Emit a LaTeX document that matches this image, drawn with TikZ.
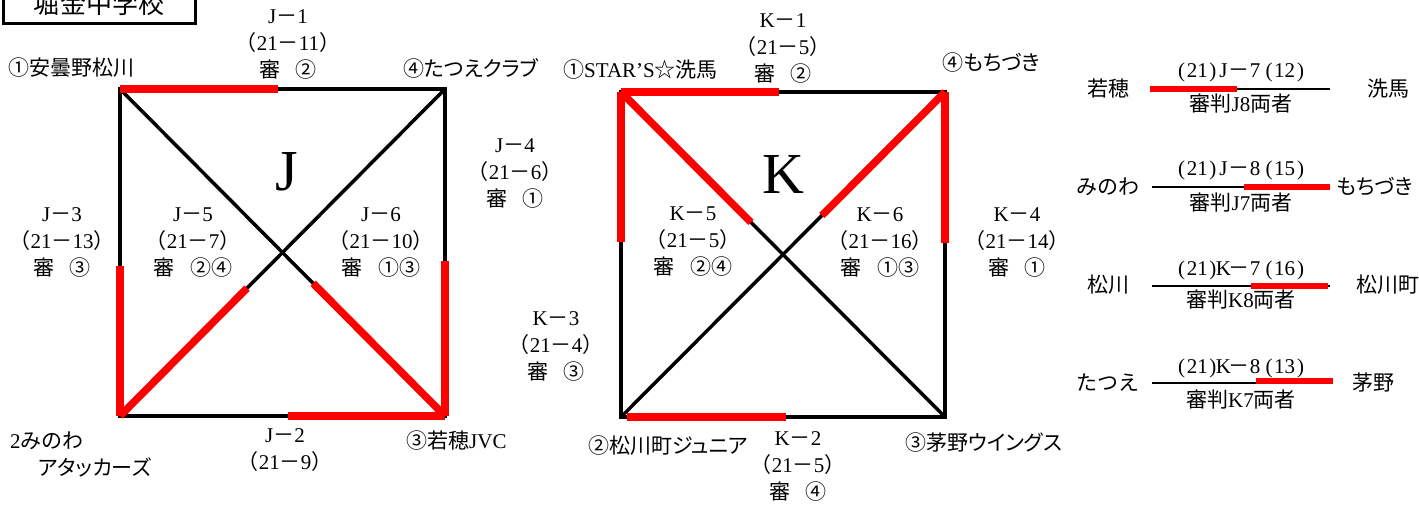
\documentclass[tikz,border=0pt]{standalone}
\usepackage{fontspec}
\usetikzlibrary{calc}
\setmainfont{Liberation Serif}
\newfontfamily\cjk{Noto Sans CJK JP}
\newfontfamily\cjkp[RawFeature=+palt]{Noto Sans CJK JP}
\newcommand\jp[1]{{\cjk #1}}
\newcommand\jpp[1]{{\cjkp #1}}
\newcommand\dsh{\jp{－}}
\newcommand\lp{\jp{（}}
\newcommand\rp{\jp{）}}
\newcommand\hw[1]{\makebox[0.5em]{#1}}
\newcommand\shin[1]{\jp{審\hspace{.75em}#1}}
\definecolor{segred}{RGB}{255,0,0}
\begin{document}
\begin{tikzpicture}[x=1pt,y=-1pt,
  blk/.style={line width=3.5pt,black},
  redseg/.style={line width=7.5pt,segred},
  rblk/.style={line width=2.8pt,black},
  rred/.style={line width=6.5pt,segred},
  lbl/.style={align=center,inner sep=0pt,font=\fontsize{21}{27}\selectfont},
  big/.style={inner sep=0pt,font=\fontsize{58}{58}\selectfont}]
\useasboundingbox (0,0) rectangle (1419,508);
\clip (0,0) rectangle (1419,508);
% title
\node[draw,line width=3pt,minimum width=192pt,minimum height=40pt,inner sep=0pt,
  font=\cjk\fontsize{26}{26}\selectfont] (title) at (99,4) {堀金中学校};
% ---------------- J square
\coordinate (JTL) at (120,89);
\coordinate (JTR) at (445,89);
\coordinate (JBL) at (120,416);
\coordinate (JBR) at (445,416);
\draw[blk] (JTL) -- (JTR) -- (JBR) -- (JBL) -- cycle;
\draw[blk] (JTL) -- (JBR);
\draw[blk] (JBL) -- (JTR);
\coordinate (J1e) at ($(JTL)!0.486!(JTR)$);
\coordinate (J3e) at ($(JTL)!0.541!(JBL)$);
\coordinate (J4e) at ($(JTR)!0.526!(JBR)$);
\coordinate (J2e) at ($(JBL)!0.517!(JBR)$);
\coordinate (J5e) at ($(JBL)!0.391!(JTR)$);
\coordinate (J6e) at ($(JTL)!0.594!(JBR)$);
\draw[redseg] (JTL) -- (J1e);
\draw[redseg] (JBL) -- (J3e);
\draw[redseg] (JBR) -- (J4e);
\draw[redseg] (JBR) -- (J2e);
\draw[redseg] (JBL) -- (J5e);
\draw[redseg] (JBR) -- (J6e);
\node[big] (Jbig) at (287,172) {J};
\node[lbl] (Jm1) at (288,44) {J\dsh 1\\\lp 21\dsh 11\rp\\\shin{②}};
\node[lbl] (Jm4) at (515,173) {J\dsh 4\\\lp 21\dsh 6\rp\\\shin{①}};
\node[lbl] (Jm3) at (62,242) {J\dsh 3\\\lp 21\dsh 13\rp\\\shin{③}};
\node[lbl] (Jm5) at (193,243) {J\dsh 5\\\lp 21\dsh 7\rp\\\shin{②④}};
\node[lbl] (Jm6) at (381,242) {J\dsh 6\\\lp 21\dsh 10\rp\\\shin{①③}};
\node[lbl] (Jm2) at (285,450) {J\dsh 2\\\lp 21\dsh 9\rp};
\node[lbl,anchor=west] (Jt1) at (8,68) {\jp{①安曇野松川}};
\node[lbl,anchor=west] (Jt4) at (403,68) {\jp{④}\jpp{たつえクラブ}};
\node[lbl,anchor=west] (Jt2a) at (10,441) {2\jp{みのわ}};
\node[lbl,anchor=west] (Jt2b) at (38,467) {\jpp{アタッカーズ}};
\node[lbl,anchor=west] (Jt3) at (406,441) {\jp{③若穂}JVC};
% ---------------- K square
\coordinate (KTL) at (621,92);
\coordinate (KTR) at (945,92);
\coordinate (KBL) at (621,417);
\coordinate (KBR) at (945,417);
\draw[blk] (KTL) -- (KTR) -- (KBR) -- (KBL) -- cycle;
\draw[blk] (KTL) -- (KBR);
\draw[blk] (KBL) -- (KTR);
\coordinate (K1e) at ($(KTL)!0.488!(KTR)$);
\coordinate (K3e) at ($(KTL)!0.462!(KBL)$);
\coordinate (K4e) at ($(KTR)!0.465!(KBR)$);
\coordinate (K2s) at ($(KBL)!0.019!(KBR)$);
\coordinate (K2e) at ($(KBL)!0.509!(KBR)$);
\coordinate (K5e) at ($(KTL)!0.401!(KBR)$);
\coordinate (K6e) at ($(KTR)!0.380!(KBL)$);
\draw[redseg] (KTL) -- (K1e);
\draw[redseg] (KTL) -- (K3e);
\draw[redseg] (KTR) -- (K4e);
\draw[redseg] (K2s) -- (K2e);
\draw[redseg] (KTL) -- (K5e);
\draw[redseg] (KTR) -- (K6e);
\node[big] (Kbig) at (783,175) {K};
\node[lbl] (Km1) at (783,48) {K\dsh 1\\\lp 21\dsh 5\rp\\\shin{②}};
\node[lbl] (Km4) at (1017,242) {K\dsh 4\\\lp 21\dsh 14\rp\\\shin{①}};
\node[lbl] (Km5) at (693,242) {K\dsh 5\\\lp 21\dsh 5\rp\\\shin{②④}};
\node[lbl] (Km6) at (880,242) {K\dsh 6\\\lp 21\dsh 16\rp\\\shin{①③}};
\node[lbl] (Km3) at (556,346) {K\dsh 3\\\lp 21\dsh 4\rp\\\shin{③}};
\node[lbl] (Km2) at (798,466) {K\dsh 2\\\lp 21\dsh 5\rp\\\shin{④}};
\node[lbl,anchor=west] (Kt1) at (563,70) {\jp{①}STAR’S\jp{☆洗馬}};
\node[lbl,anchor=west] (Kt4) at (942,63) {\jp{④}\jpp{もちづき}};
\node[lbl,anchor=west] (Kt2) at (588,446) {\jp{②松川町}\jpp{ジュニア}};
\node[lbl,anchor=west] (Kt3) at (905,443) {\jp{③茅野}\jpp{ウイングス}};
% ---------------- right column
\coordinate (R1a) at (1150,89);  \coordinate (R1b) at (1330,89);  \coordinate (R1r) at (1237,89);
\coordinate (R2a) at (1152,187); \coordinate (R2b) at (1330,187); \coordinate (R2r) at (1244,187);
\coordinate (R3a) at (1152,286); \coordinate (R3b) at (1330,286);
\coordinate (R3r) at (1251,286); \coordinate (R3s) at (1328,286);
\coordinate (R4a) at (1152,383); \coordinate (R4b) at (1330,383);
\coordinate (R4r) at (1256,381); \coordinate (R4s) at (1333,381);
\draw[rblk] (R1a) -- (R1b);
\draw[rred] (R1a) -- (R1r);
\draw[rblk] (R2a) -- (R2b);
\draw[rred] (R2r) -- (R2b);
\draw[rblk] (R3a) -- (R3b);
\draw[rred] (R3r) -- (R3s);
\draw[rblk] (R4a) -- (R4b);
\draw[rred] (R4r) -- (R4s);
\node[lbl] (R1l) at (1108,89) {\jp{若穂}};
\node[lbl] (R1t) at (1388,89) {\jp{洗馬}};
\node[lbl] (R1u) at (1241,72) {\hw(21\hw)\hw{J}\dsh 7\,\hw(12\hw)};
\node[lbl] (R1d) at (1241,104) {\jp{審判}J8\jp{両者}};
\node[lbl] (R2l) at (1108,187) {\jp{みのわ}};
\node[lbl,anchor=west] (R2t) at (1336,187) {\jpp{もちづき}};
\node[lbl] (R2u) at (1241,170) {\hw(21\hw)\hw{J}\dsh 8\,\hw(15\hw)};
\node[lbl] (R2d) at (1241,203) {\jp{審判}J7\jp{両者}};
\node[lbl] (R3l) at (1108,285) {\jp{松川}};
\node[lbl] (R3t) at (1388,285) {\jp{松川町}};
\node[lbl] (R3u) at (1241,270) {\hw(21\hw)\hw{K}\dsh 7\,\hw(16\hw)};
\node[lbl] (R3d) at (1241,300) {\jp{審判}K8\jp{両者}};
\node[lbl] (R4l) at (1108,383) {\jp{たつえ}};
\node[lbl] (R4t) at (1373,383) {\jp{茅野}};
\node[lbl] (R4u) at (1241,368) {\hw(21\hw)\hw{K}\dsh 8\,\hw(13\hw)};
\node[lbl] (R4d) at (1241,400) {\jp{審判}K7\jp{両者}};
\end{tikzpicture}
\end{document}
